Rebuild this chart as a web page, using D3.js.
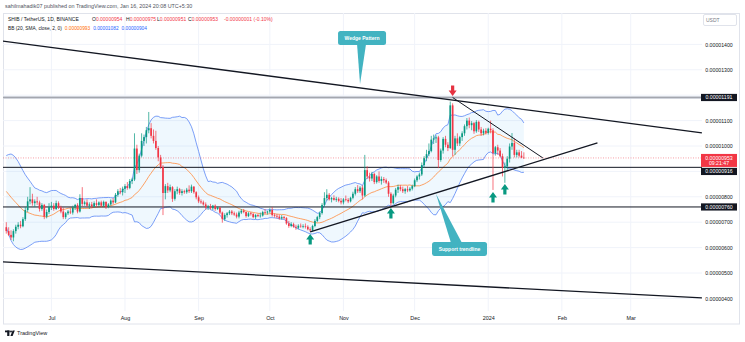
<!DOCTYPE html>
<html lang="en">

<head>
    <meta charset="UTF-8">
    <title>SHIB / TetherUS 1D</title>
    <style>
        body {
            margin: 0;
            background: #ffffff;
            overflow: hidden;
        }

        svg {
            display: block;
        }

        svg text {
            font-family: "Liberation Sans", Arial, sans-serif;
        }
    </style>
    <script src="https://cdnjs.cloudflare.com/ajax/libs/d3/7.8.5/d3.min.js"></script>
</head>

<body>
    <div id="wrapper"></div>
<script>
// daily candles from 2023-06-12 to 2024-01-16, prices in units of 0.00000001 USDT
const firstCandleDay = "2023-06-12";

// closes before the first visible candle, only used for the bollinger bands
const warmupCloses = [880, 872, 878, 885, 890, 895, 882, 870, 862, 858, 850, 845, 800, 790, 785, 770, 760, 700, 690];

const opens = [
    680, 665, 650, 640, 665, 682, 690, 684, 712, 748, 782, 790, 775, 782, 778, 752, 768, 722, 740,
    760, 765, 752, 775, 758, 742, 720, 735, 742, 738, 758, 768, 742, 795, 772, 778, 765, 770, 762, 775, 768, 778, 765, 780, 760, 770, 785, 778, 808, 822, 818,
    832, 842, 835, 862, 868, 990, 905, 962, 1020, 1035, 1062, 1070, 1040, 1020, 992, 955, 918, 815, 842, 825, 838, 792, 822, 830, 815, 822, 818, 828, 822, 840, 818,
    798, 782, 778, 770, 758, 762, 755, 765, 752, 758, 738, 712, 728, 735, 742, 735, 730, 722, 738, 745, 740, 724, 735, 732, 720, 728, 724, 726, 740, 738,
    742, 748, 728, 725, 722, 715, 720, 716, 695, 685, 692, 682, 678, 686, 684, 684, 682, 672, 668, 685, 705, 720, 736, 768, 795, 808, 790, 795, 788, 792, 784,
    778, 790, 788, 782, 796, 812, 830, 822, 836, 805, 905, 880, 872, 890, 858, 880, 862, 870, 865, 856, 812, 775, 805, 828, 838, 830, 822, 830, 825, 832,
    842, 865, 880, 888, 925, 952, 968, 980, 1025, 1030, 1034, 945, 982, 1028, 1005, 992, 1160, 985, 1030, 1010, 1035, 1050, 1078, 1100, 1082, 1090, 1058, 1095, 1065, 1050, 1060,
    1052, 1068, 1062, 972, 995, 982, 960, 915, 920, 950, 998, 1012, 965, 975, 962, 954
];
const highs = [
    700, 680, 668, 672, 690, 700, 705, 720, 760, 800, 838, 812, 790, 800, 785, 775, 772, 750, 775,
    780, 775, 785, 782, 765, 758, 740, 748, 755, 765, 772, 775, 810, 838, 785, 790, 778, 780, 782, 790, 782, 785, 785, 782, 775, 790, 795, 815, 830, 835, 840,
    850, 858, 870, 875, 1050, 1005, 970, 1050, 1045, 1075, 1134, 1090, 1065, 1060, 1000, 965, 925, 850, 855, 848, 842, 830, 840, 835, 830, 828, 835, 845, 848, 842, 822,
    805, 790, 785, 778, 768, 772, 768, 770, 762, 760, 742, 735, 740, 748, 748, 742, 738, 745, 752, 752, 742, 740, 740, 736, 732, 733, 738, 745, 752, 745,
    755, 760, 735, 732, 730, 728, 725, 720, 705, 700, 698, 690, 692, 695, 692, 695, 688, 680, 690, 712, 725, 742, 775, 818, 830, 815, 800, 806, 800, 798, 795,
    795, 805, 795, 800, 820, 838, 846, 842, 845, 965, 920, 895, 898, 895, 885, 900, 880, 878, 872, 862, 818, 812, 835, 848, 846, 840, 835, 842, 838, 848,
    872, 885, 895, 935, 960, 985, 1010, 1040, 1045, 1042, 1040, 990, 1035, 1040, 1015, 1175, 1168, 1040, 1050, 1040, 1058, 1085, 1110, 1112, 1098, 1095, 1102, 1100, 1075, 1068, 1070,
    1072, 1100, 1070, 1000, 1005, 992, 970, 935, 960, 1010, 1051, 1030, 985, 985, 980, 975
];
const lows = [
    655, 645, 630, 625, 655, 672, 676, 680, 705, 740, 770, 765, 760, 768, 742, 745, 712, 715, 732,
    748, 745, 748, 752, 735, 712, 712, 728, 732, 730, 748, 735, 738, 760, 765, 760, 752, 755, 758, 760, 762, 760, 760, 752, 755, 765, 770, 775, 800, 810, 805,
    815, 828, 830, 850, 862, 890, 895, 955, 1000, 1010, 1050, 1030, 1010, 985, 940, 910, 728, 790, 815, 818, 780, 785, 810, 808, 805, 812, 812, 815, 815, 812, 790,
    775, 772, 765, 750, 748, 750, 748, 745, 748, 732, 698, 705, 718, 728, 728, 725, 715, 715, 732, 735, 718, 720, 726, 715, 712, 720, 718, 722, 732, 730,
    735, 722, 718, 715, 710, 710, 712, 690, 678, 680, 678, 670, 672, 678, 676, 675, 668, 662, 664, 680, 700, 712, 730, 760, 785, 785, 778, 785, 780, 778, 770,
    770, 782, 775, 778, 790, 805, 815, 815, 790, 800, 870, 860, 862, 850, 852, 855, 848, 855, 850, 800, 760, 770, 798, 815, 822, 815, 812, 818, 820, 825,
    838, 858, 868, 882, 915, 940, 960, 975, 1008, 1012, 913, 938, 970, 995, 980, 988, 960, 965, 1000, 1000, 1020, 1040, 1065, 1070, 1062, 1048, 1052, 1055, 1040, 1042, 1045,
    1045, 1050, 827, 962, 965, 955, 880, 855, 905, 935, 985, 955, 955, 955, 952, 951
];
const closes = [
    665, 650, 640, 665, 682, 690, 684, 712, 748, 782, 790, 775, 782, 778, 752, 768, 722, 740, 760,
    765, 752, 775, 758, 742, 720, 735, 742, 738, 758, 768, 742, 795, 772, 778, 765, 770, 762, 775, 768, 778, 765, 780, 760, 770, 785, 778, 808, 822, 818, 832,
    842, 835, 862, 868, 990, 905, 962, 1020, 1035, 1062, 1070, 1040, 1020, 992, 955, 918, 815, 842, 825, 838, 792, 822, 830, 815, 822, 818, 828, 822, 840, 818, 798,
    782, 778, 770, 758, 762, 755, 765, 752, 758, 738, 712, 728, 735, 742, 735, 730, 722, 738, 745, 740, 724, 735, 732, 720, 728, 724, 726, 740, 738, 742,
    748, 728, 725, 722, 715, 720, 716, 695, 685, 692, 682, 678, 686, 684, 684, 682, 672, 668, 685, 705, 720, 736, 768, 795, 808, 790, 795, 788, 792, 784, 778,
    790, 788, 782, 796, 812, 830, 822, 836, 805, 905, 880, 872, 890, 858, 880, 862, 870, 865, 856, 812, 775, 805, 828, 838, 830, 822, 830, 825, 832, 842,
    865, 880, 888, 925, 952, 968, 980, 1025, 1030, 1034, 945, 982, 1028, 1005, 992, 1160, 985, 1030, 1010, 1035, 1050, 1078, 1100, 1082, 1090, 1058, 1095, 1065, 1050, 1060, 1052,
    1068, 1062, 972, 995, 982, 960, 915, 920, 950, 998, 1012, 965, 975, 962, 954, 953
];

const priceTicks = [400, 500, 600, 700, 800, 900, 1000, 1100, 1200, 1300, 1400];
const monthTicks = ["2023-07-01", "2023-08-01", "2023-09-01", "2023-10-01", "2023-11-01", "2023-12-01", "2024-01-01", "2024-02-01", "2024-03-01"];
const monthLabels = ["Jul", "Aug", "Sep", "Oct", "Nov", "Dec", "2024", "Feb", "Mar"];

// drawings on the chart: [day, price]
const channelTop = [["2023-06-10", 1414], ["2024-03-31", 1052]];
const channelBottom = [["2023-06-10", 544], ["2024-03-31", 402]];
const supportLine = [["2023-10-18", 662], ["2024-02-16", 1012]];
const wedgeTop = [["2023-12-17", 1191], ["2024-01-24", 953]];
const blackLevels = [916, 760];
const greyLevel = 1191;
const lastPrice = 953;
const downArrows = [["2023-12-17", 1197]];
const upArrows = [["2023-10-18", 654], ["2023-11-21", 756], ["2024-01-03", 819], ["2024-01-08", 850]];
const calloutTexts = ["Wedge Pattern", "Support trendline"];
const calloutTips = [["2023-11-08", 1244], ["2023-12-10", 811]];

const headerText = "sahilmahadik07 published on TradingView.com, Jan 16, 2024 20:08 UTC+5:30";
const symbolText = "SHIB / TetherUS, 1D, BINANCE";
const ohlcLabels = ["O", "H", "L", "C"];
const ohlcValues = ["0.00000954", "0.00000975", "0.00000951", "0.00000953"];
const changeText = "-0.00000001 (-0.10%)";
const bbTitle = "BB (20, SMA, close, 2, 0)";
const bbValues = ["0.00000993", "0.00001082", "0.00000904"];
const countdown = "09:21:47";

function drawChart() {
    const dimensions = {
        width: 745,
        height: 342,
        plot: { left: 3, right: 702, top: 13, bottom: 311 },
    };
    const upColor = "#089981";
    const downColor = "#f23645";
    const ink = "#131722";

    const parseDay = d3.timeParse("%Y-%m-%d");
    const fmt = v => (v / 1e8).toFixed(8);
    const start = parseDay(firstCandleDay);

    const candles = closes.map((c, i) => ({
        date: d3.timeDay.offset(start, i),
        open: opens[i], high: highs[i], low: lows[i], close: c,
    }));

    // bollinger bands 20, 2
    const allCloses = warmupCloses.concat(closes);
    const bands = candles.map((d, i) => {
        const win = allCloses.slice(i + warmupCloses.length - 19, i + warmupCloses.length + 1);
        const mean = d3.mean(win);
        const sd = Math.sqrt(d3.mean(win, v => (v - mean) ** 2));
        return { date: d.date, basis: mean, upper: mean + 2 * sd, lower: mean - 2 * sd };
    });

    const xScaler = d3.scaleTime()
        .domain([parseDay("2023-07-01"), parseDay("2024-03-01")])
        .range([51.4, 630.7]);
    const yScaler = d3.scaleLinear()
        .domain([400, 1400])
        .range([298.4, 44.4]);
    const px = p => [xScaler(parseDay(p[0])), yScaler(p[1])];
    const dayWidth = xScaler(d3.timeDay.offset(start, 1)) - xScaler(start);

    const svg = d3.select("#wrapper")
        .append("svg")
        .attr("width", dimensions.width)
        .attr("height", dimensions.height);

    svg.append("rect")
        .attr("width", dimensions.width)
        .attr("height", dimensions.height)
        .attr("fill", "#ffffff");

    svg.append("defs").append("clipPath").attr("id", "plotClip")
        .append("rect")
        .attr("x", dimensions.plot.left)
        .attr("y", dimensions.plot.top)
        .attr("width", dimensions.plot.right - dimensions.plot.left)
        .attr("height", dimensions.plot.bottom - dimensions.plot.top);

    // frame
    svg.append("rect")
        .attr("x", 3.5).attr("y", 13.5)
        .attr("width", 736).attr("height", 310.5)
        .attr("fill", "none")
        .attr("stroke", "#e0e3eb");

    const plot = svg.append("g").attr("clip-path", "url(#plotClip)");

    // grid
    plot.append("g").selectAll("line")
        .data(priceTicks)
        .enter().append("line")
        .attr("x1", dimensions.plot.left).attr("x2", dimensions.plot.right)
        .attr("y1", d => yScaler(d)).attr("y2", d => yScaler(d))
        .attr("stroke", "#f0f3fa");
    plot.append("g").selectAll("line")
        .data(monthTicks)
        .enter().append("line")
        .attr("x1", d => xScaler(parseDay(d))).attr("x2", d => xScaler(parseDay(d)))
        .attr("y1", dimensions.plot.top).attr("y2", dimensions.plot.bottom)
        .attr("stroke", "#f0f3fa");

    // bollinger bands
    plot.append("path")
        .datum(bands)
        .attr("fill", "rgba(33,150,243,0.07)")
        .attr("d", d3.area().x(d => xScaler(d.date)).y0(d => yScaler(d.lower)).y1(d => yScaler(d.upper)));
    const bandLine = key => d3.line().x(d => xScaler(d.date)).y(d => yScaler(d[key]));
    plot.append("path").datum(bands)
        .attr("fill", "none").attr("stroke", "#5b86f5").attr("stroke-width", 0.8)
        .attr("d", bandLine("upper"));
    plot.append("path").datum(bands)
        .attr("fill", "none").attr("stroke", "#5b86f5").attr("stroke-width", 0.8)
        .attr("d", bandLine("lower"));
    plot.append("path").datum(bands)
        .attr("fill", "none").attr("stroke", "#ff8a3c").attr("stroke-width", 0.8)
        .attr("d", bandLine("basis"));

    // horizontal levels
    plot.append("line")
        .attr("x1", dimensions.plot.left).attr("x2", dimensions.plot.right)
        .attr("y1", yScaler(greyLevel)).attr("y2", yScaler(greyLevel))
        .attr("stroke", "#d1d4dc").attr("stroke-width", 3);
    plot.append("line")
        .attr("x1", dimensions.plot.left).attr("x2", dimensions.plot.right)
        .attr("y1", yScaler(greyLevel)).attr("y2", yScaler(greyLevel))
        .attr("stroke", "#a3a6af").attr("stroke-width", 1);
    plot.append("g").selectAll("line")
        .data(blackLevels)
        .enter().append("line")
        .attr("x1", dimensions.plot.left).attr("x2", dimensions.plot.right)
        .attr("y1", d => yScaler(d)).attr("y2", d => yScaler(d))
        .attr("stroke", ink).attr("stroke-width", 1);
    plot.append("line")
        .attr("x1", dimensions.plot.left).attr("x2", dimensions.plot.right)
        .attr("y1", yScaler(lastPrice)).attr("y2", yScaler(lastPrice))
        .attr("stroke", downColor).attr("stroke-opacity", 0.6)
        .attr("stroke-dasharray", "1,1.5").attr("stroke-width", 0.8);

    // candles
    const candleGroups = plot.append("g").selectAll("g")
        .data(candles)
        .enter().append("g")
        .attr("fill", d => d.close >= d.open ? upColor : downColor)
        .attr("stroke", d => d.close >= d.open ? upColor : downColor);
    candleGroups.append("line")
        .attr("x1", d => xScaler(d.date)).attr("x2", d => xScaler(d.date))
        .attr("y1", d => yScaler(d.high)).attr("y2", d => yScaler(d.low))
        .attr("stroke-width", 0.7);
    candleGroups.append("rect")
        .attr("x", d => xScaler(d.date) - dayWidth * 0.35)
        .attr("width", dayWidth * 0.7)
        .attr("y", d => yScaler(Math.max(d.open, d.close)))
        .attr("height", d => Math.max(0.7, Math.abs(yScaler(d.open) - yScaler(d.close))))
        .attr("stroke", "none");

    // trend lines
    const trendLines = [channelTop, channelBottom, supportLine, wedgeTop];
    plot.append("g").selectAll("line")
        .data(trendLines)
        .enter().append("line")
        .attr("x1", d => px(d[0])[0]).attr("y1", d => px(d[0])[1])
        .attr("x2", d => px(d[1])[0]).attr("y2", d => px(d[1])[1])
        .attr("stroke", ink)
        .attr("stroke-width", (d, i) => i === 3 ? 1 : 1.3);

    // arrows, tip at the given point
    const arrowPath = "M-1.6,0 L1.6,0 L1.6,-5 L4,-5 L0,-10.5 L-4,-5 L-1.6,-5 Z";
    plot.append("g").selectAll("path")
        .data(downArrows)
        .enter().append("path")
        .attr("transform", d => `translate(${px(d)[0]},${px(d)[1] - 10.5}) rotate(180)`)
        .attr("d", arrowPath)
        .attr("fill", "#e53241");
    plot.append("g").selectAll("path")
        .data(upArrows)
        .enter().append("path")
        .attr("transform", d => `translate(${px(d)[0]},${px(d)[1] + 10.5})`)
        .attr("d", arrowPath)
        .attr("fill", upColor);

    // callouts
    const calloutColor = "#42b3c1";
    const calloutBoxes = [
        { dx: -22, dy: -53, w: 48, h: 14, base: [-3, 6] },
        { dx: -4, dy: 48, w: 55, h: 14, base: [15, 26] },
    ];
    calloutTexts.forEach((txt, i) => {
        const [tx, ty] = px(calloutTips[i]);
        const box = calloutBoxes[i];
        const bx = tx + box.dx;
        const by = ty + box.dy;
        const baseY = box.dy < 0 ? by + box.h - 1 : by + 1;
        const g = svg.append("g");
        g.append("path")
            .attr("d", `M${tx + box.base[0]},${baseY} L${tx},${ty} L${tx + box.base[1]},${baseY} Z`)
            .attr("fill", calloutColor);
        g.append("rect")
            .attr("x", bx).attr("y", by)
            .attr("width", box.w).attr("height", box.h)
            .attr("rx", 2.5)
            .attr("fill", calloutColor);
        g.append("text")
            .attr("x", bx + box.w / 2).attr("y", by + box.h / 2 + 1.7)
            .attr("text-anchor", "middle")
            .attr("font-size", "5px")
            .attr("font-weight", "bold")
            .attr("fill", "#ffffff")
            .text(txt);
    });

    // price axis
    const markerCenters = [
        { v: greyLevel, y: yScaler(greyLevel) },
        { v: lastPrice, y: yScaler(lastPrice) + 2.3 },
        { v: blackLevels[0], y: Math.max(yScaler(blackLevels[0]), yScaler(lastPrice) + 13.5) },
        { v: blackLevels[1], y: yScaler(blackLevels[1]) },
    ];
    const shownTicks = priceTicks.filter(t => markerCenters.every(m => Math.abs(yScaler(t) - m.y) > 8));

    const yAxis = svg.append("g")
        .attr("transform", "translate(719,0)")
        .style("font", "5.2px 'Liberation Sans', Arial, sans-serif")
        .call(d3.axisRight(yScaler).tickValues(shownTicks).tickFormat(fmt).tickSize(0).tickPadding(0));
    yAxis.select(".domain").remove();
    yAxis.selectAll("text").attr("x", 0).attr("text-anchor", "middle").attr("fill", ink);

    svg.append("rect")
        .attr("x", 703.5).attr("y", 14.5).attr("width", 33).attr("height", 11)
        .attr("fill", "#ffffff").attr("stroke", "#e0e3eb").attr("rx", 1.5);
    svg.append("text")
        .attr("x", 706).attr("y", 22)
        .attr("font-size", "5px").attr("fill", "#787b86")
        .text("USDT");

    const blackMarks = [markerCenters[0], markerCenters[2], markerCenters[3]];
    const blackTags = svg.append("g").selectAll("g")
        .data(blackMarks)
        .enter().append("g");
    blackTags.append("rect")
        .attr("x", 701).attr("y", d => d.y - 3.6)
        .attr("width", 36).attr("height", 7.2)
        .attr("fill", ink);
    blackTags.append("text")
        .attr("x", 719).attr("y", d => d.y + 1.8)
        .attr("text-anchor", "middle")
        .attr("font-size", "5.2px").attr("fill", "#ffffff")
        .text(d => fmt(d.v));

    const lastY = yScaler(lastPrice);
    svg.append("rect")
        .attr("x", 701).attr("y", lastY - 4)
        .attr("width", 36).attr("height", 13)
        .attr("fill", downColor);
    svg.append("text")
        .attr("x", 719).attr("y", lastY + 1.8)
        .attr("text-anchor", "middle")
        .attr("font-size", "5.2px").attr("fill", "#ffffff")
        .text(fmt(lastPrice));
    svg.append("text")
        .attr("x", 719).attr("y", lastY + 7.4)
        .attr("text-anchor", "middle")
        .attr("font-size", "5.2px").attr("fill", "#ffffff")
        .text(countdown);

    // time axis
    const xAxis = svg.append("g")
        .attr("transform", "translate(0,316)")
        .style("font", "5.4px 'Liberation Sans', Arial, sans-serif")
        .call(d3.axisBottom(xScaler)
            .tickValues(monthTicks.map(parseDay))
            .tickFormat((d, i) => monthLabels[i])
            .tickSize(0).tickPadding(0));
    xAxis.select(".domain").remove();
    xAxis.selectAll("text").attr("fill", ink);

    // header and legend
    svg.append("text")
        .attr("x", 5).attr("y", 8)
        .attr("font-size", "5.4px").attr("fill", "#50535e")
        .text(headerText);

    const legendFont = "5px";
    svg.append("text")
        .attr("x", 8).attr("y", 21)
        .attr("font-size", legendFont).attr("fill", ink)
        .text(symbolText);
    const ohlcX = [92, 126, 157, 188];
    ohlcLabels.forEach((lab, i) => {
        const t = svg.append("text")
            .attr("x", ohlcX[i]).attr("y", 21)
            .attr("font-size", legendFont).attr("fill", ink);
        t.append("tspan").text(lab);
        t.append("tspan").attr("fill", downColor).text(ohlcValues[i]);
    });
    svg.append("text")
        .attr("x", 224).attr("y", 21)
        .attr("font-size", legendFont).attr("fill", downColor)
        .text(changeText);

    // second row laid out left to right so nothing overlaps
    let cursor = 8;
    const bbColors = [ink, "#ff6d00", "#2962ff", "#2962ff"];
    [bbTitle].concat(bbValues).forEach((str, i) => {
        const t = svg.append("text")
            .attr("x", cursor).attr("y", 29.5)
            .attr("font-size", "4.8px").attr("fill", bbColors[i])
            .text(str);
        cursor += t.node().getComputedTextLength() + 3;
    });

    // tradingview mark
    const logo = svg.append("g").attr("fill", ink);
    logo.append("rect").attr("x", 5).attr("y", 330.5).attr("width", 4.6).attr("height", 1.8);
    logo.append("rect").attr("x", 7.2).attr("y", 330.5).attr("width", 2.2).attr("height", 5.5);
    logo.append("circle").attr("cx", 11).attr("cy", 331.5).attr("r", 0.95);
    logo.append("path").attr("d", "M12.6,330.5 L14.8,330.5 L12.6,336 L10.4,336 Z");
    svg.append("text")
        .attr("x", 17).attr("y", 335.2)
        .attr("font-size", "5.5px").attr("fill", ink)
        .text("TradingView");
}

drawChart();
</script>

</body>

</html>
